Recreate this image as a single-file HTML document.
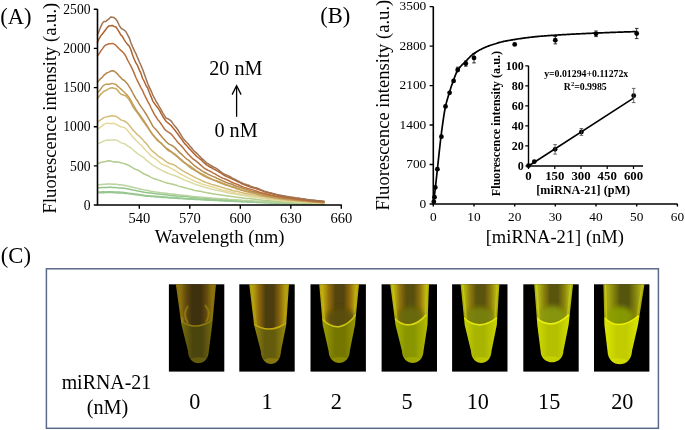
<!DOCTYPE html>
<html><head><meta charset="utf-8"><style>
html,body{margin:0;padding:0;background:#fff;overflow:hidden;}
svg{display:block;filter:blur(0.35px)}
text{font-family:"Liberation Serif",serif;fill:#000;}
</style></head><body>
<svg width="685" height="430" viewBox="0 0 685 430">
<polyline points="97.2,192.8 98.9,192.8 100.6,192.7 102.2,192.7 103.9,192.7 105.6,192.6 107.3,192.6 109.0,192.4 110.7,192.4 112.3,192.5 114.0,192.7 115.7,192.8 117.4,192.9 119.1,192.9 120.8,192.9 122.4,193.0 124.1,193.2 125.8,193.4 127.5,193.6 129.2,193.8 130.9,194.0 132.5,194.3 134.2,194.5 135.9,194.7 137.6,194.9 139.3,195.1 141.0,195.4 142.6,195.6 144.3,195.9 146.0,196.1 147.7,196.2 149.4,196.3 151.1,196.4 152.7,196.6 154.4,196.8 156.1,196.9 157.8,197.0 159.5,197.1 161.2,197.3 162.8,197.4 164.5,197.5 166.2,197.6 167.9,197.8 169.6,197.9 171.3,197.9 172.9,198.0 174.6,198.1 176.3,198.2 178.0,198.4 179.7,198.5 181.4,198.6 183.0,198.7 184.7,198.8 186.4,198.9 188.1,199.0 189.8,199.1 191.5,199.2 193.1,199.3 194.8,199.4 196.5,199.5 198.2,199.6 199.9,199.6 201.6,199.8 203.2,199.8 204.9,199.9 206.6,200.0 208.3,200.1 210.0,200.2 211.7,200.3 213.3,200.3 215.0,200.4 216.7,200.5 218.4,200.6 220.1,200.7 221.8,200.7 223.4,200.8 225.1,200.9 226.8,201.0 228.5,201.1 230.2,201.1 231.9,201.2 233.5,201.3 235.2,201.4 236.9,201.4 238.6,201.5 240.3,201.6 242.0,201.7 243.6,201.8 245.3,201.8 247.0,201.9 248.7,202.0 250.4,202.1 252.1,202.1 253.7,202.2 255.4,202.3 257.1,202.4 258.8,202.4 260.5,202.5 262.2,202.6 263.8,202.6 265.5,202.7 267.2,202.8 268.9,202.8 270.6,202.9 272.3,203.0 273.9,203.0 275.6,203.1 277.3,203.2 279.0,203.2 280.7,203.3 282.4,203.4 284.0,203.4 285.7,203.5 287.4,203.5 289.1,203.6 290.8,203.6 292.5,203.7 294.1,203.7 295.8,203.8 297.5,203.8 299.2,203.8 300.9,203.9 302.6,203.9 304.2,204.0 305.9,204.0 307.6,204.0 309.3,204.1 311.0,204.1 312.7,204.1 314.3,204.2 316.0,204.2 317.7,204.2 319.4,204.3 321.1,204.3 322.8,204.3 324.4,204.4" fill="none" stroke="#94c68c" stroke-width="1.5" stroke-linejoin="round"/>
<polyline points="97.2,192.1 98.9,192.0 100.6,191.9 102.2,191.8 103.9,191.8 105.6,191.9 107.3,191.8 109.0,191.8 110.7,191.8 112.3,191.8 114.0,191.9 115.7,191.9 117.4,192.0 119.1,192.1 120.8,192.2 122.4,192.3 124.1,192.5 125.8,192.7 127.5,193.0 129.2,193.2 130.9,193.4 132.5,193.6 134.2,193.9 135.9,194.1 137.6,194.3 139.3,194.5 141.0,194.8 142.6,195.0 144.3,195.3 146.0,195.5 147.7,195.7 149.4,195.8 151.1,195.9 152.7,196.0 154.4,196.2 156.1,196.3 157.8,196.5 159.5,196.6 161.2,196.7 162.8,196.8 164.5,197.0 166.2,197.0 167.9,197.2 169.6,197.4 171.3,197.5 172.9,197.6 174.6,197.7 176.3,197.8 178.0,198.0 179.7,198.0 181.4,198.2 183.0,198.3 184.7,198.4 186.4,198.5 188.1,198.7 189.8,198.8 191.5,198.9 193.1,198.9 194.8,199.0 196.5,199.1 198.2,199.2 199.9,199.3 201.6,199.4 203.2,199.5 204.9,199.6 206.6,199.7 208.3,199.8 210.0,199.9 211.7,200.0 213.3,200.0 215.0,200.1 216.7,200.2 218.4,200.3 220.1,200.4 221.8,200.5 223.4,200.6 225.1,200.6 226.8,200.7 228.5,200.8 230.2,200.9 231.9,201.0 233.5,201.1 235.2,201.2 236.9,201.2 238.6,201.3 240.3,201.4 242.0,201.5 243.6,201.6 245.3,201.6 247.0,201.7 248.7,201.8 250.4,201.9 252.1,202.0 253.7,202.0 255.4,202.1 257.1,202.2 258.8,202.3 260.5,202.3 262.2,202.4 263.8,202.5 265.5,202.6 267.2,202.6 268.9,202.7 270.6,202.8 272.3,202.8 273.9,202.9 275.6,203.0 277.3,203.0 279.0,203.1 280.7,203.2 282.4,203.3 284.0,203.3 285.7,203.4 287.4,203.4 289.1,203.5 290.8,203.5 292.5,203.6 294.1,203.6 295.8,203.7 297.5,203.7 299.2,203.8 300.9,203.8 302.6,203.9 304.2,203.9 305.9,203.9 307.6,204.0 309.3,204.0 311.0,204.0 312.7,204.1 314.3,204.1 316.0,204.1 317.7,204.2 319.4,204.2 321.1,204.2 322.8,204.3 324.4,204.3" fill="none" stroke="#98c890" stroke-width="1.5" stroke-linejoin="round"/>
<polyline points="97.2,187.8 98.9,187.7 100.6,187.7 102.2,187.6 103.9,187.6 105.6,187.5 107.3,187.4 109.0,187.3 110.7,187.3 112.3,187.4 114.0,187.5 115.7,187.6 117.4,187.8 119.1,187.9 120.8,188.0 122.4,188.0 124.1,188.2 125.8,188.6 127.5,188.8 129.2,189.2 130.9,189.6 132.5,190.0 134.2,190.3 135.9,190.6 137.6,191.0 139.3,191.3 141.0,191.6 142.6,191.9 144.3,192.3 146.0,192.5 147.7,192.7 149.4,192.9 151.1,193.1 152.7,193.3 154.4,193.5 156.1,193.8 157.8,194.0 159.5,194.1 161.2,194.2 162.8,194.4 164.5,194.6 166.2,194.8 167.9,195.0 169.6,195.2 171.3,195.4 172.9,195.6 174.6,195.7 176.3,195.9 178.0,196.0 179.7,196.1 181.4,196.3 183.0,196.3 184.7,196.5 186.4,196.6 188.1,196.8 189.8,197.0 191.5,197.2 193.1,197.3 194.8,197.5 196.5,197.6 198.2,197.8 199.9,197.9 201.6,197.9 203.2,198.1 204.9,198.2 206.6,198.3 208.3,198.4 210.0,198.5 211.7,198.6 213.3,198.7 215.0,198.9 216.7,199.0 218.4,199.1 220.1,199.2 221.8,199.3 223.4,199.4 225.1,199.5 226.8,199.6 228.5,199.8 230.2,199.9 231.9,200.0 233.5,200.1 235.2,200.2 236.9,200.3 238.6,200.4 240.3,200.5 242.0,200.7 243.6,200.8 245.3,200.9 247.0,200.9 248.7,201.0 250.4,201.2 252.1,201.3 253.7,201.3 255.4,201.4 257.1,201.5 258.8,201.6 260.5,201.7 262.2,201.8 263.8,201.9 265.5,202.0 267.2,202.1 268.9,202.2 270.6,202.3 272.3,202.3 273.9,202.4 275.6,202.5 277.3,202.6 279.0,202.7 280.7,202.8 282.4,202.9 284.0,202.9 285.7,203.0 287.4,203.1 289.1,203.1 290.8,203.2 292.5,203.2 294.1,203.3 295.8,203.4 297.5,203.4 299.2,203.5 300.9,203.5 302.6,203.6 304.2,203.7 305.9,203.7 307.6,203.7 309.3,203.8 311.0,203.8 312.7,203.9 314.3,203.9 316.0,203.9 317.7,204.0 319.4,204.0 321.1,204.1 322.8,204.1 324.4,204.2" fill="none" stroke="#90c488" stroke-width="1.5" stroke-linejoin="round"/>
<polyline points="97.2,184.9 98.9,184.7 100.6,184.6 102.2,184.4 103.9,184.3 105.6,184.2 107.3,184.0 109.0,184.0 110.7,184.1 112.3,184.2 114.0,184.1 115.7,184.2 117.4,184.4 119.1,184.7 120.8,184.8 122.4,184.9 124.1,185.3 125.8,185.7 127.5,186.1 129.2,186.4 130.9,186.8 132.5,187.2 134.2,187.6 135.9,187.9 137.6,188.4 139.3,188.7 141.0,189.2 142.6,189.6 144.3,190.0 146.0,190.3 147.7,190.6 149.4,190.9 151.1,191.2 152.7,191.4 154.4,191.7 156.1,191.9 157.8,192.2 159.5,192.4 161.2,192.7 162.8,192.9 164.5,193.1 166.2,193.2 167.9,193.5 169.6,193.7 171.3,193.9 172.9,194.1 174.6,194.3 176.3,194.5 178.0,194.7 179.7,194.9 181.4,195.1 183.0,195.2 184.7,195.4 186.4,195.5 188.1,195.8 189.8,196.1 191.5,196.3 193.1,196.4 194.8,196.6 196.5,196.7 198.2,196.9 199.9,197.0 201.6,197.2 203.2,197.3 204.9,197.5 206.6,197.6 208.3,197.7 210.0,197.9 211.7,198.1 213.3,198.2 215.0,198.3 216.7,198.5 218.4,198.6 220.1,198.7 221.8,198.8 223.4,198.9 225.1,199.0 226.8,199.1 228.5,199.3 230.2,199.4 231.9,199.5 233.5,199.7 235.2,199.8 236.9,199.9 238.6,200.1 240.3,200.2 242.0,200.3 243.6,200.4 245.3,200.5 247.0,200.6 248.7,200.7 250.4,200.8 252.1,201.0 253.7,201.1 255.4,201.2 257.1,201.3 258.8,201.4 260.5,201.5 262.2,201.6 263.8,201.7 265.5,201.8 267.2,201.9 268.9,202.0 270.6,202.1 272.3,202.2 273.9,202.3 275.6,202.4 277.3,202.5 279.0,202.6 280.7,202.7 282.4,202.7 284.0,202.8 285.7,202.9 287.4,202.9 289.1,203.0 290.8,203.1 292.5,203.1 294.1,203.2 295.8,203.3 297.5,203.3 299.2,203.4 300.9,203.4 302.6,203.5 304.2,203.6 305.9,203.6 307.6,203.7 309.3,203.7 311.0,203.7 312.7,203.8 314.3,203.8 316.0,203.9 317.7,203.9 319.4,204.0 321.1,204.0 322.8,204.1 324.4,204.1" fill="none" stroke="#b8d4a0" stroke-width="1.5" stroke-linejoin="round"/>
<polyline points="97.2,164.0 98.9,163.3 100.6,162.5 102.2,162.1 103.9,161.8 105.6,161.5 107.3,161.1 109.0,160.7 110.7,160.9 112.3,161.5 114.0,161.9 115.7,161.8 117.4,161.9 119.1,162.3 120.8,162.8 122.4,163.1 124.1,163.6 125.8,164.2 127.5,164.8 129.2,165.6 130.9,166.7 132.5,167.7 134.2,168.7 135.9,169.4 137.6,170.0 139.3,170.9 141.0,172.1 142.6,173.2 144.3,174.0 146.0,174.7 147.7,175.5 149.4,176.4 151.1,177.3 152.7,178.1 154.4,178.7 156.1,179.2 157.8,179.9 159.5,180.4 161.2,181.0 162.8,181.6 164.5,182.1 166.2,182.8 167.9,183.2 169.6,183.6 171.3,183.9 172.9,184.2 174.6,184.8 176.3,185.3 178.0,185.9 179.7,186.4 181.4,186.8 183.0,187.3 184.7,187.7 186.4,188.2 188.1,188.6 189.8,189.1 191.5,189.5 193.1,189.9 194.8,190.4 196.5,190.7 198.2,191.0 199.9,191.3 201.6,191.6 203.2,192.0 204.9,192.3 206.6,192.7 208.3,193.0 210.0,193.3 211.7,193.6 213.3,193.9 215.0,194.1 216.7,194.4 218.4,194.6 220.1,194.9 221.8,195.1 223.4,195.4 225.1,195.6 226.8,195.9 228.5,196.1 230.2,196.3 231.9,196.5 233.5,196.7 235.2,197.0 236.9,197.2 238.6,197.4 240.3,197.6 242.0,197.9 243.6,198.0 245.3,198.3 247.0,198.5 248.7,198.6 250.4,198.8 252.1,199.0 253.7,199.1 255.4,199.3 257.1,199.5 258.8,199.7 260.5,199.9 262.2,200.1 263.8,200.2 265.5,200.4 267.2,200.5 268.9,200.6 270.6,200.8 272.3,200.9 273.9,201.0 275.6,201.2 277.3,201.4 279.0,201.5 280.7,201.6 282.4,201.8 284.0,201.9 285.7,202.0 287.4,202.0 289.1,202.1 290.8,202.2 292.5,202.3 294.1,202.4 295.8,202.5 297.5,202.6 299.2,202.7 300.9,202.7 302.6,202.8 304.2,202.9 305.9,203.0 307.6,203.1 309.3,203.1 311.0,203.2 312.7,203.3 314.3,203.3 316.0,203.4 317.7,203.5 319.4,203.5 321.1,203.6 322.8,203.7 324.4,203.7" fill="none" stroke="#b4cc8c" stroke-width="1.5" stroke-linejoin="round"/>
<polyline points="97.2,144.3 98.9,143.3 100.6,142.7 102.2,141.8 103.9,141.1 105.6,140.4 107.3,140.1 109.0,140.2 110.7,140.0 112.3,140.1 114.0,139.8 115.7,139.9 117.4,140.4 119.1,141.6 120.8,142.6 122.4,143.2 124.1,143.6 125.8,144.5 127.5,145.8 129.2,146.9 130.9,148.0 132.5,149.2 134.2,151.0 135.9,152.1 137.6,153.8 139.3,154.8 141.0,156.0 142.6,156.9 144.3,158.2 146.0,160.0 147.7,161.1 149.4,162.6 151.1,163.8 152.7,165.2 154.4,166.3 156.1,167.2 157.8,168.3 159.5,169.1 161.2,170.1 162.8,170.9 164.5,171.7 166.2,172.5 167.9,173.3 169.6,173.9 171.3,174.5 172.9,175.0 174.6,175.5 176.3,176.3 178.0,177.0 179.7,177.8 181.4,178.6 183.0,179.3 184.7,180.1 186.4,180.8 188.1,181.4 189.8,182.0 191.5,182.7 193.1,183.5 194.8,184.1 196.5,184.8 198.2,185.3 199.9,185.8 201.6,186.3 203.2,186.7 204.9,187.2 206.6,187.7 208.3,188.3 210.0,188.7 211.7,189.2 213.3,189.6 215.0,190.0 216.7,190.2 218.4,190.5 220.1,190.9 221.8,191.2 223.4,191.7 225.1,192.1 226.8,192.5 228.5,192.9 230.2,193.2 231.9,193.4 233.5,193.7 235.2,194.0 236.9,194.4 238.6,194.7 240.3,195.0 242.0,195.3 243.6,195.6 245.3,195.8 247.0,196.1 248.7,196.4 250.4,196.7 252.1,196.9 253.7,197.1 255.4,197.3 257.1,197.6 258.8,197.8 260.5,198.0 262.2,198.2 263.8,198.5 265.5,198.8 267.2,199.0 268.9,199.2 270.6,199.4 272.3,199.6 273.9,199.8 275.6,200.0 277.3,200.2 279.0,200.3 280.7,200.5 282.4,200.7 284.0,200.8 285.7,200.9 287.4,201.1 289.1,201.2 290.8,201.3 292.5,201.4 294.1,201.5 295.8,201.7 297.5,201.8 299.2,201.9 300.9,202.0 302.6,202.2 304.2,202.2 305.9,202.3 307.6,202.4 309.3,202.5 311.0,202.6 312.7,202.7 314.3,202.8 316.0,202.8 317.7,202.9 319.4,203.0 321.1,203.1 322.8,203.2 324.4,203.3" fill="none" stroke="#d8dca4" stroke-width="1.5" stroke-linejoin="round"/>
<polyline points="97.2,129.4 98.9,128.4 100.6,126.9 102.2,126.0 103.9,124.4 105.6,123.6 107.3,123.1 109.0,123.4 110.7,123.4 112.3,123.5 114.0,123.5 115.7,124.1 117.4,124.8 119.1,126.0 120.8,126.7 122.4,126.9 124.1,127.4 125.8,128.7 127.5,130.4 129.2,132.6 130.9,134.5 132.5,136.8 134.2,138.2 135.9,140.2 137.6,141.8 139.3,143.6 141.0,145.0 142.6,146.8 144.3,148.8 146.0,150.7 147.7,152.3 149.4,154.1 151.1,155.8 152.7,157.1 154.4,158.2 156.1,159.3 157.8,160.7 159.5,162.3 161.2,163.6 162.8,164.5 164.5,165.3 166.2,165.8 167.9,166.6 169.6,167.5 171.3,168.4 172.9,169.4 174.6,170.2 176.3,171.4 178.0,172.4 179.7,173.5 181.4,174.3 183.0,175.3 184.7,176.1 186.4,177.1 188.1,177.8 189.8,178.7 191.5,179.6 193.1,180.5 194.8,181.2 196.5,181.8 198.2,182.5 199.9,183.2 201.6,183.9 203.2,184.4 204.9,184.9 206.6,185.4 208.3,185.9 210.0,186.3 211.7,186.8 213.3,187.3 215.0,187.8 216.7,188.2 218.4,188.9 220.1,189.3 221.8,189.9 223.4,190.3 225.1,190.7 226.8,191.1 228.5,191.4 230.2,191.8 231.9,192.2 233.5,192.6 235.2,193.0 236.9,193.4 238.6,193.7 240.3,194.1 242.0,194.4 243.6,194.7 245.3,195.0 247.0,195.3 248.7,195.6 250.4,195.9 252.1,196.2 253.7,196.5 255.4,196.9 257.1,197.2 258.8,197.5 260.5,197.7 262.2,197.9 263.8,198.2 265.5,198.4 267.2,198.7 268.9,198.9 270.6,199.1 272.3,199.3 273.9,199.5 275.6,199.7 277.3,199.9 279.0,200.0 280.7,200.2 282.4,200.4 284.0,200.6 285.7,200.7 287.4,200.8 289.1,201.0 290.8,201.1 292.5,201.2 294.1,201.4 295.8,201.5 297.5,201.6 299.2,201.8 300.9,201.9 302.6,202.0 304.2,202.1 305.9,202.3 307.6,202.4 309.3,202.5 311.0,202.6 312.7,202.7 314.3,202.7 316.0,202.8 317.7,202.9 319.4,203.0 321.1,203.0 322.8,203.0 324.4,203.1" fill="none" stroke="#e6d898" stroke-width="1.5" stroke-linejoin="round"/>
<polyline points="97.2,122.5 98.9,121.1 100.6,119.8 102.2,118.9 103.9,117.6 105.6,117.1 107.3,116.6 109.0,116.4 110.7,116.0 112.3,115.8 114.0,116.1 115.7,116.3 117.4,117.1 119.1,118.3 120.8,119.9 122.4,120.4 124.1,121.0 125.8,121.8 127.5,123.1 129.2,125.2 130.9,127.2 132.5,129.6 134.2,131.3 135.9,132.9 137.6,134.9 139.3,136.1 141.0,138.0 142.6,139.4 144.3,141.6 146.0,143.2 147.7,145.2 149.4,147.6 151.1,149.7 152.7,151.4 154.4,152.7 156.1,154.1 157.8,155.8 159.5,156.8 161.2,157.9 162.8,159.0 164.5,160.4 166.2,161.7 167.9,162.8 169.6,163.5 171.3,164.1 172.9,164.5 174.6,165.3 176.3,166.4 178.0,167.6 179.7,168.7 181.4,169.8 183.0,170.9 184.7,171.9 186.4,172.8 188.1,173.6 189.8,174.6 191.5,175.5 193.1,176.4 194.8,177.3 196.5,178.1 198.2,178.9 199.9,179.7 201.6,180.6 203.2,181.3 204.9,182.0 206.6,182.6 208.3,183.2 210.0,183.8 211.7,184.4 213.3,184.8 215.0,185.2 216.7,185.7 218.4,186.2 220.1,186.8 221.8,187.3 223.4,187.8 225.1,188.4 226.8,188.8 228.5,189.3 230.2,189.8 231.9,190.3 233.5,190.7 235.2,191.0 236.9,191.3 238.6,191.7 240.3,192.2 242.0,192.6 243.6,193.0 245.3,193.4 247.0,193.7 248.7,194.0 250.4,194.3 252.1,194.7 253.7,195.0 255.4,195.3 257.1,195.6 258.8,195.9 260.5,196.2 262.2,196.4 263.8,196.8 265.5,197.2 267.2,197.5 268.9,197.7 270.6,197.9 272.3,198.1 273.9,198.4 275.6,198.7 277.3,199.0 279.0,199.2 280.7,199.4 282.4,199.6 284.0,199.8 285.7,199.9 287.4,200.1 289.1,200.2 290.8,200.4 292.5,200.5 294.1,200.7 295.8,200.8 297.5,201.0 299.2,201.1 300.9,201.3 302.6,201.4 304.2,201.5 305.9,201.6 307.6,201.7 309.3,201.8 311.0,202.0 312.7,202.1 314.3,202.2 316.0,202.3 317.7,202.4 319.4,202.5 321.1,202.7 322.8,202.7 324.4,202.8" fill="none" stroke="#d4bc78" stroke-width="1.5" stroke-linejoin="round"/>
<polyline points="97.2,99.1 98.9,96.8 100.6,94.4 102.2,93.0 103.9,91.2 105.6,90.7 107.3,89.6 109.0,88.6 110.7,88.0 112.3,87.7 114.0,88.2 115.7,88.4 117.4,90.0 119.1,92.3 120.8,94.1 122.4,94.8 124.1,95.3 125.8,95.9 127.5,97.6 129.2,99.8 130.9,102.7 132.5,106.1 134.2,108.9 135.9,111.0 137.6,113.0 139.3,115.6 141.0,118.1 142.6,120.7 144.3,122.7 146.0,125.4 147.7,127.6 149.4,130.1 151.1,132.3 152.7,134.4 154.4,136.8 156.1,139.0 157.8,140.9 159.5,142.1 161.2,143.2 162.8,145.0 164.5,146.8 166.2,148.7 167.9,150.4 169.6,151.4 171.3,152.1 172.9,152.9 174.6,153.8 176.3,155.4 178.0,156.8 179.7,158.3 181.4,159.6 183.0,161.1 184.7,162.7 186.4,164.0 188.1,164.9 189.8,165.9 191.5,167.0 193.1,168.4 194.8,169.5 196.5,170.8 198.2,171.8 199.9,172.9 201.6,173.8 203.2,174.5 204.9,175.5 206.6,176.4 208.3,177.3 210.0,178.1 211.7,178.9 213.3,179.6 215.0,180.2 216.7,180.7 218.4,181.4 220.1,182.0 221.8,182.7 223.4,183.4 225.1,184.0 226.8,184.8 228.5,185.3 230.2,185.9 231.9,186.4 233.5,186.8 235.2,187.4 236.9,187.9 238.6,188.5 240.3,189.0 242.0,189.6 243.6,190.1 245.3,190.6 247.0,191.0 248.7,191.4 250.4,191.8 252.1,192.2 253.7,192.6 255.4,192.9 257.1,193.2 258.8,193.6 260.5,193.9 262.2,194.3 263.8,194.8 265.5,195.3 267.2,195.7 268.9,196.0 270.6,196.3 272.3,196.6 273.9,196.9 275.6,197.2 277.3,197.5 279.0,197.8 280.7,198.1 282.4,198.3 284.0,198.5 285.7,198.7 287.4,198.9 289.1,199.1 290.8,199.3 292.5,199.5 294.1,199.7 295.8,199.9 297.5,200.1 299.2,200.2 300.9,200.4 302.6,200.6 304.2,200.7 305.9,200.8 307.6,200.9 309.3,201.1 311.0,201.3 312.7,201.4 314.3,201.6 316.0,201.7 317.7,201.9 319.4,202.0 321.1,202.1 322.8,202.2 324.4,202.3" fill="none" stroke="#c8aa60" stroke-width="1.5" stroke-linejoin="round"/>
<polyline points="97.2,92.9 98.9,91.3 100.6,89.2 102.2,86.8 103.9,85.2 105.6,84.3 107.3,84.2 109.0,84.2 110.7,83.7 112.3,83.4 114.0,83.9 115.7,84.2 117.4,85.9 119.1,87.5 120.8,88.9 122.4,90.5 124.1,92.0 125.8,93.7 127.5,95.4 129.2,97.6 130.9,100.7 132.5,103.7 134.2,106.4 135.9,109.3 137.6,112.0 139.3,114.1 141.0,116.4 142.6,118.8 144.3,121.5 146.0,123.9 147.7,126.6 149.4,129.7 151.1,132.5 152.7,134.7 154.4,136.5 156.1,138.3 157.8,140.0 159.5,141.8 161.2,143.4 162.8,145.0 164.5,146.6 166.2,148.1 167.9,149.1 169.6,150.4 171.3,151.6 172.9,153.1 174.6,154.6 176.3,155.9 178.0,157.4 179.7,158.9 181.4,160.5 183.0,161.9 184.7,163.0 186.4,164.1 188.1,165.6 189.8,167.1 191.5,168.5 193.1,169.4 194.8,170.4 196.5,171.3 198.2,172.4 199.9,173.5 201.6,174.5 203.2,175.6 204.9,176.6 206.6,177.4 208.3,178.1 210.0,178.8 211.7,179.4 213.3,180.1 215.0,180.6 216.7,181.4 218.4,182.2 220.1,182.9 221.8,183.5 223.4,184.1 225.1,184.8 226.8,185.3 228.5,185.9 230.2,186.4 231.9,187.0 233.5,187.5 235.2,188.1 236.9,188.8 238.6,189.4 240.3,189.9 242.0,190.3 243.6,190.8 245.3,191.4 247.0,191.8 248.7,192.1 250.4,192.5 252.1,192.8 253.7,193.2 255.4,193.5 257.1,194.0 258.8,194.5 260.5,195.0 262.2,195.4 263.8,195.7 265.5,196.0 267.2,196.3 268.9,196.6 270.6,196.9 272.3,197.2 273.9,197.6 275.6,197.8 277.3,198.1 279.0,198.3 280.7,198.5 282.4,198.7 284.0,199.0 285.7,199.2 287.4,199.4 289.1,199.6 290.8,199.8 292.5,199.9 294.1,200.1 295.8,200.2 297.5,200.4 299.2,200.5 300.9,200.7 302.6,200.9 304.2,201.1 305.9,201.3 307.6,201.4 309.3,201.5 311.0,201.7 312.7,201.8 314.3,201.9 316.0,202.1 317.7,202.2 319.4,202.3 321.1,202.4 322.8,202.4 324.4,202.4" fill="none" stroke="#c09a56" stroke-width="1.5" stroke-linejoin="round"/>
<polyline points="97.2,82.5 98.9,80.6 100.6,78.6 102.2,77.3 103.9,75.2 105.6,73.9 107.3,72.6 109.0,72.1 110.7,71.1 112.3,70.8 114.0,71.0 115.7,72.4 117.4,73.8 119.1,76.0 120.8,77.6 122.4,79.5 124.1,80.3 125.8,82.1 127.5,83.9 129.2,86.6 130.9,89.3 132.5,92.5 134.2,95.6 135.9,98.6 137.6,101.0 139.3,104.1 141.0,106.6 142.6,108.9 144.3,111.3 146.0,114.0 147.7,116.9 149.4,119.8 151.1,122.9 152.7,125.9 154.4,127.9 156.1,129.8 157.8,131.7 159.5,134.0 161.2,136.0 162.8,137.9 164.5,139.7 166.2,141.7 167.9,143.3 169.6,144.3 171.3,145.2 172.9,146.1 174.6,147.4 176.3,149.1 178.0,150.9 179.7,152.6 181.4,154.1 183.0,155.8 184.7,157.3 186.4,158.8 188.1,159.8 189.8,161.4 191.5,163.0 193.1,164.5 194.8,165.9 196.5,167.1 198.2,168.4 199.9,169.4 201.6,170.6 203.2,171.6 204.9,172.5 206.6,173.4 208.3,174.3 210.0,175.2 211.7,175.9 213.3,176.6 215.0,177.2 216.7,178.2 218.4,178.9 220.1,179.8 221.8,180.4 223.4,181.3 225.1,182.0 226.8,182.6 228.5,183.2 230.2,183.7 231.9,184.3 233.5,185.0 235.2,185.7 236.9,186.4 238.6,186.9 240.3,187.4 242.0,187.9 243.6,188.5 245.3,189.1 247.0,189.6 248.7,190.1 250.4,190.7 252.1,191.2 253.7,191.6 255.4,191.9 257.1,192.2 258.8,192.5 260.5,193.0 262.2,193.6 263.8,194.1 265.5,194.6 267.2,194.9 268.9,195.2 270.6,195.5 272.3,195.8 273.9,196.2 275.6,196.6 277.3,196.9 279.0,197.2 280.7,197.5 282.4,197.7 284.0,197.9 285.7,198.2 287.4,198.4 289.1,198.6 290.8,198.9 292.5,199.1 294.1,199.2 295.8,199.5 297.5,199.7 299.2,199.8 300.9,200.0 302.6,200.2 304.2,200.3 305.9,200.5 307.6,200.7 309.3,200.9 311.0,201.0 312.7,201.2 314.3,201.3 316.0,201.4 317.7,201.6 319.4,201.7 321.1,201.9 322.8,202.0 324.4,202.1" fill="none" stroke="#b4884c" stroke-width="1.5" stroke-linejoin="round"/>
<polyline points="97.2,56.2 98.9,54.0 100.6,51.3 102.2,49.1 103.9,46.8 105.6,44.9 107.3,44.5 109.0,43.8 110.7,43.7 112.3,43.4 114.0,44.0 115.7,45.2 117.4,46.9 119.1,48.8 120.8,50.4 122.4,51.7 124.1,53.5 125.8,56.1 127.5,59.9 129.2,63.0 130.9,66.1 132.5,69.4 134.2,73.4 135.9,77.5 137.6,81.2 139.3,84.4 141.0,87.9 142.6,90.6 144.3,94.6 146.0,97.9 147.7,101.3 149.4,104.3 151.1,108.0 152.7,111.1 154.4,114.4 156.1,117.0 157.8,119.7 159.5,121.6 161.2,124.0 162.8,126.4 164.5,129.0 166.2,130.6 167.9,131.8 169.6,132.8 171.3,134.2 172.9,136.1 174.6,138.3 176.3,140.4 178.0,142.4 179.7,144.3 181.4,146.0 183.0,147.8 184.7,149.9 186.4,151.9 188.1,153.9 189.8,155.7 191.5,157.5 193.1,159.0 194.8,160.1 196.5,161.4 198.2,162.8 199.9,164.4 201.6,165.8 203.2,167.3 204.9,168.6 206.6,169.5 208.3,170.4 210.0,171.2 211.7,172.1 213.3,173.1 215.0,173.9 216.7,174.9 218.4,175.8 220.1,176.9 221.8,177.7 223.4,178.4 225.1,179.0 226.8,179.7 228.5,180.5 230.2,181.3 231.9,182.3 233.5,183.0 235.2,183.6 236.9,184.2 238.6,185.0 240.3,185.8 242.0,186.5 243.6,187.1 245.3,187.6 247.0,188.2 248.7,188.7 250.4,189.1 252.1,189.6 253.7,190.1 255.4,190.6 257.1,191.2 258.8,191.9 260.5,192.5 262.2,192.9 263.8,193.3 265.5,193.6 267.2,194.1 268.9,194.5 270.6,194.9 272.3,195.2 273.9,195.6 275.6,195.9 277.3,196.2 279.0,196.6 280.7,196.8 282.4,197.1 284.0,197.4 285.7,197.6 287.4,197.9 289.1,198.1 290.8,198.3 292.5,198.6 294.1,198.8 295.8,199.0 297.5,199.2 299.2,199.4 300.9,199.7 302.6,199.9 304.2,200.1 305.9,200.3 307.6,200.5 309.3,200.7 311.0,200.8 312.7,201.0 314.3,201.2 316.0,201.3 317.7,201.5 319.4,201.6 321.1,201.7 322.8,201.7 324.4,201.8" fill="none" stroke="#b8703e" stroke-width="1.5" stroke-linejoin="round"/>
<polyline points="97.2,42.9 98.9,39.1 100.6,36.1 102.2,34.3 103.9,32.0 105.6,29.7 107.3,27.4 109.0,25.9 110.7,25.7 112.3,25.5 114.0,26.4 115.7,26.8 117.4,29.1 119.1,31.8 120.8,34.9 122.4,36.4 124.1,39.6 125.8,42.1 127.5,44.4 129.2,46.0 130.9,49.8 132.5,54.8 134.2,59.2 135.9,62.9 137.6,65.7 139.3,69.9 141.0,73.4 142.6,78.5 144.3,81.5 146.0,85.3 147.7,88.0 149.4,92.8 151.1,96.6 152.7,100.8 154.4,103.3 156.1,105.7 157.8,107.8 159.5,110.3 161.2,113.6 162.8,116.5 164.5,119.1 166.2,121.5 167.9,122.8 169.6,124.3 171.3,125.8 172.9,127.8 174.6,129.8 176.3,132.1 178.0,134.3 179.7,136.7 181.4,138.9 183.0,141.2 184.7,143.6 186.4,145.3 188.1,147.4 189.8,149.1 191.5,151.0 193.1,152.7 194.8,154.5 196.5,156.3 198.2,157.5 199.9,158.9 201.6,160.2 203.2,162.0 204.9,163.4 206.6,164.9 208.3,165.9 210.0,167.0 211.7,167.8 213.3,168.8 215.0,169.7 216.7,170.7 218.4,171.6 220.1,172.6 221.8,173.7 223.4,174.9 225.1,175.8 226.8,176.6 228.5,177.3 230.2,178.1 231.9,178.8 233.5,179.6 235.2,180.4 236.9,181.3 238.6,182.1 240.3,182.9 242.0,183.7 243.6,184.5 245.3,185.1 247.0,185.7 248.7,186.4 250.4,187.1 252.1,187.6 253.7,187.9 255.4,188.4 257.1,189.0 258.8,189.5 260.5,190.2 262.2,190.9 263.8,191.7 265.5,192.1 267.2,192.5 268.9,192.9 270.6,193.4 272.3,193.8 273.9,194.2 275.6,194.6 277.3,195.0 279.0,195.4 280.7,195.7 282.4,196.0 284.0,196.2 285.7,196.6 287.4,196.9 289.1,197.2 290.8,197.5 292.5,197.7 294.1,197.9 295.8,198.2 297.5,198.4 299.2,198.6 300.9,198.8 302.6,199.0 304.2,199.2 305.9,199.5 307.6,199.7 309.3,199.9 311.0,200.2 312.7,200.4 314.3,200.5 316.0,200.7 317.7,200.8 319.4,201.0 321.1,201.2 322.8,201.3 324.4,201.5" fill="none" stroke="#b0622e" stroke-width="1.5" stroke-linejoin="round"/>
<polyline points="97.2,35.0 98.9,31.6 100.6,27.1 102.2,23.6 103.9,21.4 105.6,21.6 107.3,20.1 109.0,18.8 110.7,17.0 112.3,17.3 114.0,17.6 115.7,19.0 117.4,21.2 119.1,25.1 120.8,27.9 122.4,29.1 124.1,30.2 125.8,31.5 127.5,34.6 129.2,37.8 130.9,42.7 132.5,46.6 134.2,50.4 135.9,53.6 137.6,57.8 139.3,61.8 141.0,65.5 142.6,69.3 144.3,73.9 146.0,78.7 147.7,83.5 149.4,87.4 151.1,90.9 152.7,94.8 154.4,98.0 156.1,101.3 157.8,104.0 159.5,107.0 161.2,109.9 162.8,113.1 164.5,115.6 166.2,118.3 167.9,118.7 169.6,119.8 171.3,121.1 172.9,123.6 174.6,125.8 176.3,127.7 178.0,130.0 179.7,132.8 181.4,135.7 183.0,138.1 184.7,140.2 186.4,142.0 188.1,143.7 189.8,145.9 191.5,147.8 193.1,150.0 194.8,151.7 196.5,153.1 198.2,154.8 199.9,156.5 201.6,158.3 203.2,159.6 204.9,161.2 206.6,162.8 208.3,163.8 210.0,165.0 211.7,166.0 213.3,167.0 215.0,167.7 216.7,168.6 218.4,169.8 220.1,171.2 221.8,172.5 223.4,173.7 225.1,174.5 226.8,175.1 228.5,175.9 230.2,176.7 231.9,177.8 233.5,178.7 235.2,179.4 236.9,180.4 238.6,181.1 240.3,182.1 242.0,182.8 243.6,183.6 245.3,184.2 247.0,184.8 248.7,185.3 250.4,186.1 252.1,186.7 253.7,187.3 255.4,187.7 257.1,188.1 258.8,188.8 260.5,189.6 262.2,190.3 263.8,190.9 265.5,191.4 267.2,191.9 268.9,192.4 270.6,192.8 272.3,193.3 273.9,193.7 275.6,194.2 277.3,194.6 279.0,194.9 280.7,195.2 282.4,195.6 284.0,195.9 285.7,196.2 287.4,196.5 289.1,196.8 290.8,197.0 292.5,197.3 294.1,197.6 295.8,197.9 297.5,198.1 299.2,198.3 300.9,198.6 302.6,198.8 304.2,199.0 305.9,199.2 307.6,199.5 309.3,199.7 311.0,199.9 312.7,200.1 314.3,200.3 316.0,200.5 317.7,200.7 319.4,200.8 321.1,201.0 322.8,201.2 324.4,201.4" fill="none" stroke="#a07452" stroke-width="1.5" stroke-linejoin="round"/>
<path d="M97.5 9.3V205.5M97 205H341.8" stroke="#000" stroke-width="1.6" fill="none"/>
<path d="M93.8 205.0H97.5M93.8 165.9H97.5M93.8 126.7H97.5M93.8 87.6H97.5M93.8 48.4H97.5M93.8 9.3H97.5M139.3 205V208.7M189.8 205V208.7M240.3 205V208.7M290.8 205V208.7M341.3 205V208.7" stroke="#000" stroke-width="1.4" fill="none"/>
<text x="90.5" y="209.6" font-size="13.6" text-anchor="end">0</text>
<text x="90.5" y="170.5" font-size="13.6" text-anchor="end">500</text>
<text x="90.5" y="131.3" font-size="13.6" text-anchor="end">1000</text>
<text x="90.5" y="92.2" font-size="13.6" text-anchor="end">1500</text>
<text x="90.5" y="53.0" font-size="13.6" text-anchor="end">2000</text>
<text x="90.5" y="13.9" font-size="13.6" text-anchor="end">2500</text>
<text x="139.3" y="222.6" font-size="14.5" text-anchor="middle">540</text>
<text x="189.8" y="222.6" font-size="14.5" text-anchor="middle">570</text>
<text x="240.3" y="222.6" font-size="14.5" text-anchor="middle">600</text>
<text x="290.8" y="222.6" font-size="14.5" text-anchor="middle">630</text>
<text x="341.3" y="222.6" font-size="14.5" text-anchor="middle">660</text>
<text x="219.7" y="243" font-size="18.7" text-anchor="middle">Wavelength (nm)</text>
<text transform="translate(55.5 108.1) rotate(-90)" font-size="18.6" text-anchor="middle">Fluorescence intensity (a.u.)</text>
<text x="0.2" y="23.7" font-size="22.6">(A)</text>
<text x="235.9" y="74.8" font-size="20.2" text-anchor="middle">20 nM</text>
<text x="236" y="136.6" font-size="20.2" text-anchor="middle">0 nM</text>
<path d="M236.6 116.8V87" stroke="#000" stroke-width="1.3"/><path d="M232.1 94.6L236.6 85.6L241.1 94.6" fill="none" stroke="#000" stroke-width="1.3"/>
<text x="320.2" y="23" font-size="22.6">(B)</text>
<text transform="translate(388.6 105.1) rotate(-90)" font-size="18.6" text-anchor="middle">Fluorescence intensity (a.u.)</text>
<path d="M433.3 6.6V204.8M432.6 204H677.6" stroke="#000" stroke-width="1.6" fill="none"/>
<path d="M429.6 204.0H433.3M429.6 164.5H433.3M429.6 125.0H433.3M429.6 85.6H433.3M429.6 46.1H433.3M429.6 6.6H433.3M433.3 204V206.6M474.0 204V206.6M514.7 204V206.6M555.3 204V206.6M596.0 204V206.6M636.7 204V206.6M677.4 204V206.6" stroke="#000" stroke-width="1.4" fill="none"/>
<text x="426.3" y="207.5" font-size="13.4" text-anchor="end">0</text>
<text x="426.3" y="168.0" font-size="13.4" text-anchor="end">700</text>
<text x="426.3" y="128.5" font-size="13.4" text-anchor="end">1400</text>
<text x="426.3" y="89.1" font-size="13.4" text-anchor="end">2100</text>
<text x="426.3" y="49.6" font-size="13.4" text-anchor="end">2800</text>
<text x="426.3" y="10.1" font-size="13.4" text-anchor="end">3500</text>
<text x="433.3" y="221" font-size="13.3" text-anchor="middle">0</text>
<text x="474.0" y="221" font-size="13.3" text-anchor="middle">10</text>
<text x="514.7" y="221" font-size="13.3" text-anchor="middle">20</text>
<text x="555.3" y="221" font-size="13.3" text-anchor="middle">30</text>
<text x="596.0" y="221" font-size="13.3" text-anchor="middle">40</text>
<text x="636.7" y="221" font-size="13.3" text-anchor="middle">50</text>
<text x="677.4" y="221" font-size="13.3" text-anchor="middle">60</text>
<text x="554.8" y="242.6" font-size="18.5" text-anchor="middle">[miRNA-21] (nM)</text>
<polyline points="433.30,204.00 433.51,202.48 433.72,200.93 433.93,199.36 434.13,197.75 434.34,196.12 434.55,194.46 434.76,192.77 434.97,191.06 435.18,189.32 435.39,187.56 435.59,185.74 435.80,183.87 436.01,181.96 436.22,180.02 436.43,178.05 436.64,176.09 436.85,174.12 437.06,172.17 437.26,170.25 437.47,168.35 437.68,166.45 437.89,164.53 438.10,162.60 438.31,160.66 438.52,158.71 438.72,156.76 438.93,154.82 439.14,152.87 439.35,150.94 439.56,149.02 439.77,147.12 439.98,145.23 440.18,143.37 440.39,141.54 440.60,139.73 440.81,137.96 441.02,136.22 441.23,134.53 441.44,132.88 441.64,131.32 442.46,125.33 443.27,119.58 444.09,114.24 444.90,109.50 445.72,105.52 446.54,102.15 447.35,99.16 448.17,96.43 448.98,93.80 449.80,91.16 450.62,88.58 451.43,86.10 452.25,83.72 453.07,81.45 453.88,79.25 454.70,77.03 455.51,74.90 456.33,72.95 457.15,71.26 457.96,69.91 458.78,68.73 459.59,67.65 460.41,66.67 461.23,65.77 462.04,64.91 462.86,64.10 463.68,63.31 464.49,62.51 465.31,61.70 466.12,60.86 466.94,60.01 467.76,59.17 468.57,58.34 469.39,57.52 470.20,56.73 471.02,55.96 471.84,55.23 472.65,54.53 473.47,53.88 474.29,53.28 475.10,52.71 475.92,52.18 476.73,51.67 477.55,51.18 478.37,50.71 479.18,50.26 480.00,49.83 480.81,49.40 481.63,48.99 482.45,48.59 483.26,48.21 484.08,47.83 484.90,47.47 485.71,47.12 486.53,46.78 487.34,46.46 488.16,46.15 488.98,45.85 489.79,45.57 490.61,45.29 491.42,45.03 492.24,44.77 493.06,44.52 493.87,44.26 494.69,44.00 495.51,43.74 496.32,43.46 497.14,43.19 497.95,42.92 498.77,42.66 499.59,42.42 500.40,42.20 501.22,42.00 502.03,41.80 502.85,41.61 503.67,41.43 504.48,41.26 505.30,41.10 506.12,40.95 506.93,40.80 507.75,40.66 508.56,40.51 509.38,40.37 510.20,40.23 511.01,40.09 511.83,39.96 512.64,39.82 513.46,39.69 514.28,39.55 515.09,39.42 515.91,39.29 516.73,39.16 517.54,39.03 518.36,38.91 519.17,38.78 519.99,38.66 520.81,38.54 521.62,38.42 522.44,38.30 523.25,38.19 524.07,38.07 524.89,37.96 525.70,37.85 526.52,37.75 527.34,37.64 528.15,37.54 528.97,37.43 529.78,37.33 530.60,37.24 531.42,37.14 532.23,37.05 533.05,36.96 533.86,36.87 534.68,36.79 535.50,36.70 536.31,36.62 537.13,36.54 537.95,36.47 538.76,36.40 539.58,36.33 540.39,36.26 541.21,36.19 542.03,36.12 542.84,36.06 543.66,35.99 544.47,35.93 545.29,35.87 546.11,35.81 546.92,35.75 547.74,35.68 548.56,35.63 549.37,35.57 550.19,35.51 551.00,35.45 551.82,35.39 552.64,35.34 553.45,35.28 554.27,35.23 555.08,35.17 555.90,35.12 556.72,35.07 557.53,35.02 558.35,34.97 559.17,34.91 559.98,34.86 560.80,34.82 561.61,34.77 562.43,34.72 563.25,34.67 564.06,34.62 564.88,34.58 565.69,34.53 566.51,34.48 567.33,34.44 568.14,34.39 568.96,34.35 569.78,34.31 570.59,34.26 571.41,34.22 572.22,34.18 573.04,34.14 573.86,34.09 574.67,34.05 575.49,34.01 576.30,33.97 577.12,33.93 577.94,33.89 578.75,33.85 579.57,33.81 580.39,33.77 581.20,33.74 582.02,33.70 582.83,33.66 583.65,33.62 584.47,33.58 585.28,33.55 586.10,33.51 586.91,33.47 587.73,33.44 588.55,33.40 589.36,33.36 590.18,33.33 591.00,33.29 591.81,33.26 592.63,33.22 593.44,33.19 594.26,33.15 595.08,33.12 595.89,33.08 596.71,33.04 597.52,33.01 598.34,32.97 599.16,32.94 599.97,32.90 600.79,32.87 601.61,32.84 602.42,32.80 603.24,32.77 604.05,32.73 604.87,32.70 605.69,32.67 606.50,32.63 607.32,32.60 608.13,32.57 608.95,32.54 609.77,32.50 610.58,32.47 611.40,32.44 612.22,32.41 613.03,32.38 613.85,32.35 614.66,32.32 615.48,32.29 616.30,32.26 617.11,32.23 617.93,32.20 618.74,32.17 619.56,32.14 620.38,32.11 621.19,32.08 622.01,32.05 622.83,32.03 623.64,32.00 624.46,31.97 625.27,31.94 626.09,31.92 626.91,31.89 627.72,31.87 628.54,31.84 629.35,31.82 630.17,31.79 630.99,31.77 631.80,31.74 632.62,31.72 633.44,31.69 634.25,31.67 635.07,31.65 635.88,31.62 636.70,31.60" fill="none" stroke="#000" stroke-width="1.7"/>
<circle cx="433.8" cy="201.7" r="2.4"/><circle cx="434.5" cy="197.2" r="2.4"/><circle cx="435.3" cy="187.4" r="2.4"/><circle cx="437.4" cy="169.2" r="2.4"/><circle cx="441.4" cy="136.7" r="2.4"/><circle cx="445.5" cy="106.4" r="2.4"/><circle cx="449.6" cy="92.8" r="2.4"/><circle cx="453.6" cy="80.9" r="2.4"/><circle cx="457.7" cy="70.0" r="2.4"/><circle cx="465.8" cy="63.6" r="2.4"/><circle cx="474.0" cy="57.9" r="2.4"/><circle cx="514.7" cy="44.4" r="2.4"/><circle cx="555.3" cy="40.2" r="2.4"/><circle cx="596.0" cy="33.8" r="2.4"/><circle cx="636.7" cy="33.5" r="2.4"/>
<path d="M457.7 67.2V70.0M455.9 67.2h3.6M455.9 70.0h3.6M465.8 61.0V66.2M464.0 61.0h3.6M464.0 66.2h3.6M474.0 53.6V62.9M472.2 53.6h3.6M472.2 62.9h3.6M555.3 36.5V43.9M553.5 36.5h3.6M553.5 43.9h3.6M596.0 31.0V36.6M594.2 31.0h3.6M594.2 36.6h3.6M636.7 28.4V38.6M634.9 28.4h3.6M634.9 38.6h3.6" stroke="#000" stroke-width="0.8" fill="none"/>
<path d="M528.5 65.8V166.8M527.8 166H643" stroke="#000" stroke-width="1.4" fill="none"/>
<path d="M525.3 166.0H528.5M525.3 145.9H528.5M525.3 125.9H528.5M525.3 105.8H528.5M525.3 85.8H528.5M525.3 65.8H528.5M528.5 166V169M554.8 166V169M581.0 166V169M607.2 166V169M633.5 166V169" stroke="#000" stroke-width="1.2" fill="none"/>
<text x="523.8" y="170.2" font-size="12" font-weight="bold" text-anchor="end">0</text>
<text x="523.8" y="150.1" font-size="12" font-weight="bold" text-anchor="end">20</text>
<text x="523.8" y="130.1" font-size="12" font-weight="bold" text-anchor="end">40</text>
<text x="523.8" y="110.0" font-size="12" font-weight="bold" text-anchor="end">60</text>
<text x="523.8" y="90.0" font-size="12" font-weight="bold" text-anchor="end">80</text>
<text x="523.8" y="70.0" font-size="12" font-weight="bold" text-anchor="end">100</text>
<text x="528.5" y="179.7" font-size="12.8" font-weight="bold" text-anchor="middle">0</text>
<text x="554.8" y="179.7" font-size="12.8" font-weight="bold" text-anchor="middle">150</text>
<text x="581.0" y="179.7" font-size="12.8" font-weight="bold" text-anchor="middle">300</text>
<text x="607.2" y="179.7" font-size="12.8" font-weight="bold" text-anchor="middle">450</text>
<text x="633.5" y="179.7" font-size="12.8" font-weight="bold" text-anchor="middle">600</text>
<text x="583.2" y="194.2" font-size="12.2" font-weight="bold" text-anchor="middle">[miRNA-21] (pM)</text>
<text transform="translate(500.3 123.6) rotate(-90)" font-size="12.2" font-weight="bold" text-anchor="middle">Fluorescence intensity (a.u.)</text>
<text x="586.2" y="76.9" font-size="9.8" font-weight="bold" text-anchor="middle">y=0.01294+0.11272x</text>
<text x="585.3" y="90" font-size="9.8" font-weight="bold" text-anchor="middle">R<tspan font-size="6.5" dy="-4">2</tspan><tspan dy="4">=0.9985</tspan></text>
<line x1="528.5" y1="166.0" x2="633.5" y2="98.2" stroke="#000" stroke-width="1.6"/>
<circle cx="528.5" cy="165.7" r="2.4"/><circle cx="534.3" cy="161.7" r="2.4"/><circle cx="555.1" cy="149.3" r="2.4"/><circle cx="581.4" cy="132.0" r="2.4"/><circle cx="633.7" cy="95.7" r="2.4"/>
<path d="M555.1 144.6V154.1M553.3 144.6h3.6M553.3 154.1h3.6M581.4 128.5V135.4M579.6 128.5h3.6M579.6 135.4h3.6M633.7 88.4V102.6M631.9 88.4h3.6M631.9 102.6h3.6" stroke="#444" stroke-width="0.8" fill="none"/>
<text x="0.8" y="262.6" font-size="22.6">(C)</text>
<rect x="46.4" y="268.8" width="612" height="159.5" fill="none" stroke="#5c6a8a" stroke-width="1.5"/>
<text x="106.4" y="389" font-size="19.9" text-anchor="middle">miRNA-21</text>
<text x="107.5" y="413.5" font-size="20.3" text-anchor="middle">(nM)</text>
<rect x="168.9" y="284.3" width="55.4" height="87.3" fill="#000"/>
<g clip-path="url(#tc0)"><g filter="url(#soft)"><rect x="168.9" y="284" width="56" height="90" fill="#000"/><rect x="173.8" y="284" width="44.19999999999999" height="90" fill="url(#tg0)"/><path d="M178.0,284 L183.7,325 L190.0,351" fill="none" stroke="#8a7810" stroke-width="1.4" opacity="0.45"/><path d="M213.8,284 L210.0,325 L206.8,351" fill="none" stroke="#8a7810" stroke-width="1.4" opacity="0.35"/><path d="M175.5,321.5 L181.5,321.5 Q197,331.5 213,319.5 L219,319.5 L219,380 L175.5,380 Z" fill="url(#lg0)"/><path d="M181.5,321.5 Q197,331.5 213,319.5" fill="none" stroke="#8a7810" stroke-width="1.6"/><ellipse cx="198.6" cy="360.3" rx="9.400000000000006" ry="3" fill="#7a7010" opacity="0.5"/><path d="M188,306 Q182,314 188,323" fill="none" stroke="#a89018" stroke-width="2" opacity="0.6"/><path d="M205,305 Q212,313 206,322" fill="none" stroke="#a89018" stroke-width="2" opacity="0.55"/><ellipse cx="181" cy="320" rx="2.5" ry="3.5" fill="#a08818" opacity="0.7"/></g></g>
<text x="194.9" y="408.8" font-size="22.2" text-anchor="middle">0</text>
<rect x="239.3" y="284.3" width="55.4" height="87.3" fill="#000"/>
<g clip-path="url(#tc1)"><g filter="url(#soft)"><rect x="239.3" y="284" width="56" height="90" fill="#000"/><rect x="247.2" y="284" width="43.80000000000001" height="90" fill="url(#tg1)"/><path d="M251.39999999999998,284 L256.3,325 L262.8,351" fill="none" stroke="#c0a810" stroke-width="1.4" opacity="0.45"/><path d="M286.8,284 L284.0,325 L279.0,351" fill="none" stroke="#c0a810" stroke-width="1.4" opacity="0.35"/><path d="M245.5,322.8 L251.5,322.8 Q270,335.6 287.5,322 L293.5,322 L293.5,380 L245.5,380 Z" fill="url(#lg1)"/><path d="M251.5,322.8 Q270,335.6 287.5,322" fill="none" stroke="#c0a810" stroke-width="1.6"/><ellipse cx="271.7" cy="361.0" rx="9.099999999999994" ry="3" fill="#a09010" opacity="0.5"/></g></g>
<text x="267.0" y="408.8" font-size="22.2" text-anchor="middle">1</text>
<rect x="310.5" y="284.3" width="55.4" height="87.3" fill="#000"/>
<g clip-path="url(#tc2)"><g filter="url(#soft)"><rect x="310.5" y="284" width="56" height="90" fill="#000"/><rect x="317.2" y="284" width="43.80000000000001" height="90" fill="url(#tg2)"/><ellipse cx="341" cy="318.5" rx="14.8" ry="10" fill="#5a5008" opacity="0.9" filter="url(#soft2)"/><path d="M321.4,284 L324.9,325 L330.6,351" fill="none" stroke="#d0c810" stroke-width="1.4" opacity="0.45"/><path d="M356.8,284 L352.8,325 L347.8,351" fill="none" stroke="#d0c810" stroke-width="1.4" opacity="0.35"/><path d="M316,319 L322,319 Q340,337.2 357.5,312.6 L363.5,312.6 L363.5,380 L316,380 Z" fill="url(#lg2)"/><path d="M322,319 Q340,337.2 357.5,312.6" fill="none" stroke="#d0c810" stroke-width="1.6"/><ellipse cx="339.6" cy="360.0" rx="9.599999999999994" ry="3" fill="#a0a000" opacity="0.5"/></g></g>
<text x="336.4" y="408.8" font-size="22.2" text-anchor="middle">2</text>
<rect x="381.6" y="284.3" width="55.4" height="87.3" fill="#000"/>
<g clip-path="url(#tc3)"><g filter="url(#soft)"><rect x="381.6" y="284" width="56" height="90" fill="#000"/><rect x="388.2" y="284" width="42.80000000000001" height="90" fill="url(#tg3)"/><ellipse cx="410.6" cy="316.8" rx="13.5" ry="10" fill="#6a6a08" opacity="0.9" filter="url(#soft2)"/><path d="M392.4,284 L397.7,325 L404.0,351" fill="none" stroke="#d8d810" stroke-width="1.4" opacity="0.45"/><path d="M426.8,284 L425.3,325 L421.5,351" fill="none" stroke="#d8d810" stroke-width="1.4" opacity="0.35"/><path d="M387.5,317.7 L393.5,317.7 Q409.6,333.5 426.5,314.6 L432.5,314.6 L432.5,380 L387.5,380 Z" fill="url(#lg3)"/><path d="M393.5,317.7 Q409.6,333.5 426.5,314.6" fill="none" stroke="#d8d810" stroke-width="1.6"/><ellipse cx="411.8" cy="360.0" rx="9.75" ry="3" fill="#b4bc00" opacity="0.5"/></g></g>
<text x="407.1" y="408.8" font-size="22.2" text-anchor="middle">5</text>
<rect x="452.1" y="284.3" width="55.4" height="87.3" fill="#000"/>
<g clip-path="url(#tc4)"><g filter="url(#soft)"><rect x="452.1" y="284" width="56" height="90" fill="#000"/><rect x="458.6" y="284" width="42.799999999999955" height="90" fill="url(#tg4)"/><ellipse cx="479.6" cy="316.8" rx="14.2" ry="10" fill="#7a8408" opacity="0.9" filter="url(#soft2)"/><path d="M462.8,284 L466.9,325 L473.0,351" fill="none" stroke="#e0e810" stroke-width="1.4" opacity="0.45"/><path d="M497.2,284 L494.6,325 L489.5,351" fill="none" stroke="#e0e810" stroke-width="1.4" opacity="0.35"/><path d="M456.5,316.7 L462.5,316.7 Q478.6,332.4 497,317.7 L503,317.7 L503,380 L456.5,380 Z" fill="url(#lg4)"/><path d="M462.5,316.7 Q478.6,332.4 497,317.7" fill="none" stroke="#e0e810" stroke-width="1.6"/><ellipse cx="481.5" cy="360.0" rx="9.25" ry="3" fill="#ccd800" opacity="0.5"/></g></g>
<text x="477.8" y="408.8" font-size="22.2" text-anchor="middle">10</text>
<rect x="523.3" y="284.3" width="55.4" height="87.3" fill="#000"/>
<g clip-path="url(#tc5)"><g filter="url(#soft)"><rect x="523.3" y="284" width="56" height="90" fill="#000"/><rect x="532.2" y="284" width="42.89999999999998" height="90" fill="url(#tg5)"/><ellipse cx="552.6" cy="315.8" rx="13.5" ry="10" fill="#8c9c08" opacity="0.9" filter="url(#soft2)"/><path d="M536.4000000000001,284 L539.5,325 L542.6,351" fill="none" stroke="#e8f010" stroke-width="1.4" opacity="0.45"/><path d="M570.9,284 L566.4,325 L561.4,351" fill="none" stroke="#e8f010" stroke-width="1.4" opacity="0.35"/><path d="M530,317.7 L536,317.7 Q551.6,331.5 569,314.6 L575,314.6 L575,380 L530,380 Z" fill="url(#lg5)"/><path d="M536,317.7 Q551.6,331.5 569,314.6" fill="none" stroke="#e8f010" stroke-width="1.6"/><ellipse cx="551.0" cy="359.3" rx="10.399999999999977" ry="3" fill="#d4e000" opacity="0.5"/></g></g>
<text x="549.2" y="408.8" font-size="22.2" text-anchor="middle">15</text>
<rect x="594.0" y="284.3" width="55.4" height="87.3" fill="#000"/>
<g clip-path="url(#tc6)"><g filter="url(#soft)"><rect x="594.0" y="284" width="56" height="90" fill="#000"/><rect x="601.4" y="284" width="45.10000000000002" height="90" fill="url(#tg6)"/><ellipse cx="619.5" cy="316.5" rx="14.2" ry="10" fill="#8ca000" opacity="0.9" filter="url(#soft2)"/><path d="M605.6,284 L606.6,325 L609.5,351" fill="none" stroke="#eef000" stroke-width="1.4" opacity="0.45"/><path d="M642.3,284 L635.8,325 L630.0,351" fill="none" stroke="#eef000" stroke-width="1.4" opacity="0.35"/><path d="M598.5,317.7 L604.5,317.7 Q618.5,332.4 639,315.5 L645,315.5 L645,380 L598.5,380 Z" fill="url(#lg6)"/><path d="M604.5,317.7 Q618.5,332.4 639,315.5" fill="none" stroke="#eef000" stroke-width="1.6"/><ellipse cx="617.2" cy="361.3" rx="11.25" ry="3" fill="#dce800" opacity="0.5"/></g></g>
<text x="622.3" y="408.8" font-size="22.2" text-anchor="middle">20</text>
<defs><clipPath id="tc0"><path d="M175.8,284.3 L181.5,325 L188.0,351 C188.5,367.4 208.3,367.4 208.8,351 L212.2,325 L216.0,284.3 Z"/></clipPath><linearGradient id="tg0" x1="0" x2="1" y1="0" y2="0"><stop offset="0" stop-color="#8a7010"/><stop offset="0.15" stop-color="#8a7010"/><stop offset="0.28" stop-color="#604a08"/><stop offset="0.42" stop-color="#3c3008"/><stop offset="0.6" stop-color="#3c3008"/><stop offset="0.74" stop-color="#604a08"/><stop offset="0.86" stop-color="#8a7010"/><stop offset="1" stop-color="#8a7010"/></linearGradient><linearGradient id="lg0" x1="0" x2="1" y1="0" y2="0"><stop offset="0" stop-color="#7a7010"/><stop offset="0.12" stop-color="#7a7010"/><stop offset="0.4" stop-color="#4a4408"/><stop offset="0.6" stop-color="#4a4408"/><stop offset="0.88" stop-color="#7a7010"/><stop offset="1" stop-color="#7a7010"/></linearGradient><clipPath id="tc1"><path d="M249.2,284.3 L254.1,325 L260.8,351 C261.3,368.3 280.5,368.3 281.0,351 L286.2,325 L289.0,284.3 Z"/></clipPath><linearGradient id="tg1" x1="0" x2="1" y1="0" y2="0"><stop offset="0" stop-color="#b09c10"/><stop offset="0.15" stop-color="#b09c10"/><stop offset="0.28" stop-color="#8a6408"/><stop offset="0.42" stop-color="#4c3e0a"/><stop offset="0.6" stop-color="#4c3e0a"/><stop offset="0.74" stop-color="#8a6408"/><stop offset="0.86" stop-color="#b09c10"/><stop offset="1" stop-color="#b09c10"/></linearGradient><linearGradient id="lg1" x1="0" x2="1" y1="0" y2="0"><stop offset="0" stop-color="#a09010"/><stop offset="0.12" stop-color="#a09010"/><stop offset="0.4" stop-color="#645c08"/><stop offset="0.6" stop-color="#645c08"/><stop offset="0.88" stop-color="#a09010"/><stop offset="1" stop-color="#a09010"/></linearGradient><clipPath id="tc2"><path d="M319.2,284.3 L322.7,325 L328.6,351 C329.1,367.0 349.3,367.0 349.8,351 L355.0,325 L359.0,284.3 Z"/></clipPath><linearGradient id="tg2" x1="0" x2="1" y1="0" y2="0"><stop offset="0" stop-color="#b8a410"/><stop offset="0.15" stop-color="#b8a410"/><stop offset="0.28" stop-color="#906808"/><stop offset="0.42" stop-color="#52440a"/><stop offset="0.6" stop-color="#52440a"/><stop offset="0.74" stop-color="#906808"/><stop offset="0.86" stop-color="#b8a410"/><stop offset="1" stop-color="#b8a410"/></linearGradient><linearGradient id="lg2" x1="0" x2="1" y1="0" y2="0"><stop offset="0" stop-color="#a0a000"/><stop offset="0.12" stop-color="#a0a000"/><stop offset="0.4" stop-color="#747600"/><stop offset="0.6" stop-color="#747600"/><stop offset="0.88" stop-color="#a0a000"/><stop offset="1" stop-color="#a0a000"/></linearGradient><clipPath id="tc3"><path d="M390.2,284.3 L395.5,325 L402.0,351 C402.5,367.0 423.0,367.0 423.5,351 L427.5,325 L429.0,284.3 Z"/></clipPath><linearGradient id="tg3" x1="0" x2="1" y1="0" y2="0"><stop offset="0" stop-color="#b8b010"/><stop offset="0.15" stop-color="#b8b010"/><stop offset="0.28" stop-color="#907008"/><stop offset="0.42" stop-color="#58500a"/><stop offset="0.6" stop-color="#58500a"/><stop offset="0.74" stop-color="#907008"/><stop offset="0.86" stop-color="#b8b010"/><stop offset="1" stop-color="#b8b010"/></linearGradient><linearGradient id="lg3" x1="0" x2="1" y1="0" y2="0"><stop offset="0" stop-color="#b4bc00"/><stop offset="0.12" stop-color="#b4bc00"/><stop offset="0.4" stop-color="#8a9600"/><stop offset="0.6" stop-color="#8a9600"/><stop offset="0.88" stop-color="#b4bc00"/><stop offset="1" stop-color="#b4bc00"/></linearGradient><clipPath id="tc4"><path d="M460.6,284.3 L464.7,325 L471.0,351 C471.5,367.0 491.0,367.0 491.5,351 L496.8,325 L499.4,284.3 Z"/></clipPath><linearGradient id="tg4" x1="0" x2="1" y1="0" y2="0"><stop offset="0" stop-color="#b0b010"/><stop offset="0.15" stop-color="#b0b010"/><stop offset="0.28" stop-color="#8a7808"/><stop offset="0.42" stop-color="#5a520a"/><stop offset="0.6" stop-color="#5a520a"/><stop offset="0.74" stop-color="#8a7808"/><stop offset="0.86" stop-color="#b0b010"/><stop offset="1" stop-color="#b0b010"/></linearGradient><linearGradient id="lg4" x1="0" x2="1" y1="0" y2="0"><stop offset="0" stop-color="#ccd800"/><stop offset="0.12" stop-color="#ccd800"/><stop offset="0.4" stop-color="#a8b400"/><stop offset="0.6" stop-color="#a8b400"/><stop offset="0.88" stop-color="#ccd800"/><stop offset="1" stop-color="#ccd800"/></linearGradient><clipPath id="tc5"><path d="M534.2,284.3 L537.3,325 L540.6,351 C541.1,366.1 562.9,366.1 563.4,351 L568.6,325 L573.1,284.3 Z"/></clipPath><linearGradient id="tg5" x1="0" x2="1" y1="0" y2="0"><stop offset="0" stop-color="#b0b418"/><stop offset="0.15" stop-color="#b0b418"/><stop offset="0.28" stop-color="#888008"/><stop offset="0.42" stop-color="#5a540c"/><stop offset="0.6" stop-color="#5a540c"/><stop offset="0.74" stop-color="#888008"/><stop offset="0.86" stop-color="#b0b418"/><stop offset="1" stop-color="#b0b418"/></linearGradient><linearGradient id="lg5" x1="0" x2="1" y1="0" y2="0"><stop offset="0" stop-color="#d4e000"/><stop offset="0.12" stop-color="#d4e000"/><stop offset="0.4" stop-color="#b4c000"/><stop offset="0.6" stop-color="#b4c000"/><stop offset="0.88" stop-color="#d4e000"/><stop offset="1" stop-color="#d4e000"/></linearGradient><clipPath id="tc6"><path d="M603.4,284.3 L604.4,325 L607.5,351 C608.0,368.7 631.5,368.7 632.0,351 L638.0,325 L644.5,284.3 Z"/></clipPath><linearGradient id="tg6" x1="0" x2="1" y1="0" y2="0"><stop offset="0" stop-color="#a8a818"/><stop offset="0.15" stop-color="#a8a818"/><stop offset="0.28" stop-color="#808008"/><stop offset="0.42" stop-color="#56540c"/><stop offset="0.6" stop-color="#56540c"/><stop offset="0.74" stop-color="#808008"/><stop offset="0.86" stop-color="#a8a818"/><stop offset="1" stop-color="#a8a818"/></linearGradient><linearGradient id="lg6" x1="0" x2="1" y1="0" y2="0"><stop offset="0" stop-color="#dce800"/><stop offset="0.12" stop-color="#dce800"/><stop offset="0.4" stop-color="#c2cc00"/><stop offset="0.6" stop-color="#c2cc00"/><stop offset="0.88" stop-color="#dce800"/><stop offset="1" stop-color="#dce800"/></linearGradient><filter id="soft" x="-10%" y="-10%" width="120%" height="120%"><feGaussianBlur stdDeviation="0.6"/></filter><filter id="soft2" x="-50%" y="-50%" width="200%" height="200%"><feGaussianBlur stdDeviation="2.5"/></filter></defs>
</svg></body></html>
